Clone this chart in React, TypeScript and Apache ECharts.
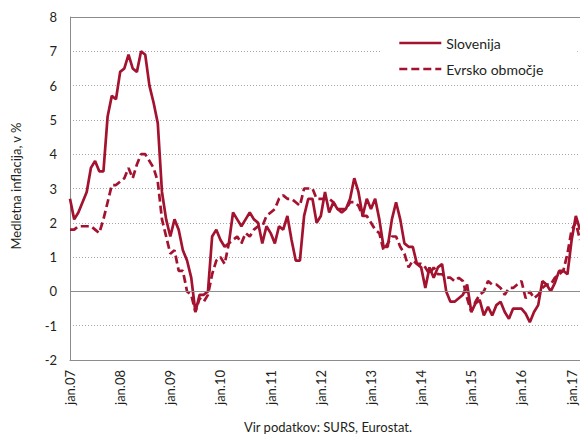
import { useEffect, useRef } from 'react';
import * as echarts from 'echarts';

const monthNames = ['jan', 'feb', 'mar', 'apr', 'maj', 'jun', 'jul', 'avg', 'sep', 'okt', 'nov', 'dec'];
const yearLabels = ['07', '08', '09', '10', '11', '12', '13', '14', '15', '16', '17'];
const lastYearMonths = 3; // jan.17 – mar.17

const categories: string[] = [];
yearLabels.forEach((yy, yi) => {
  const n = yi === yearLabels.length - 1 ? lastYearMonths : 12;
  for (let m = 0; m < n; m++) categories.push(monthNames[m] + '.' + yy);
});

// Slovenija – yearly rate of HICP inflation, %
const slovenija = [
  // 2007
  2.7, 2.1, 2.3, 2.6, 2.9, 3.6, 3.8, 3.5, 3.5, 5.1, 5.7, 5.6,
  // 2008
  6.4, 6.5, 6.9, 6.5, 6.4, 7.0, 6.9, 6.0, 5.5, 4.9, 2.9, 2.1,
  // 2009
  1.6, 2.1, 1.8, 1.2, 0.9, 0.4, -0.6, -0.1, -0.1, 0.0, 1.6, 1.8,
  // 2010
  1.5, 1.3, 1.4, 2.3, 2.1, 1.9, 2.1, 2.3, 2.1, 2.0, 1.4, 1.9,
  // 2011
  1.7, 1.4, 1.9, 1.8, 2.2, 1.5, 0.9, 0.9, 2.2, 2.7, 2.7, 2.0,
  // 2012
  2.2, 2.9, 2.3, 2.6, 2.4, 2.3, 2.4, 2.7, 3.3, 2.9, 2.2, 2.7,
  // 2013
  2.4, 2.7, 2.1, 1.3, 1.3, 2.1, 2.6, 2.1, 1.4, 1.3, 1.3, 0.8,
  // 2014
  0.7, 0.1, 0.7, 0.4, 0.7, 0.8, 0.0, -0.3, -0.3, -0.2, -0.1, 0.2,
  // 2015
  -0.6, -0.35, -0.25, -0.7, -0.45, -0.7, -0.4, -0.3, -0.6, -0.8, -0.5, -0.5,
  // 2016
  -0.5, -0.65, -0.9, -0.6, -0.4, 0.3, 0.2, 0.0, 0.25, 0.6, 0.6, 0.5,
  // 2017
  1.5, 2.2, 1.8,
];

// Evrsko območje
const evrskoObmocje = [
  // 2007
  1.8, 1.8, 1.9, 1.9, 1.9, 1.9, 1.8, 1.7, 2.1, 2.6, 3.1, 3.1,
  // 2008
  3.2, 3.3, 3.6, 3.3, 3.7, 4.0, 4.0, 3.8, 3.6, 3.2, 2.1, 1.6,
  // 2009
  1.1, 1.2, 0.6, 0.6, 0.0, -0.1, -0.6, -0.2, -0.3, -0.1, 0.5, 0.9,
  // 2010
  1.0, 0.8, 1.4, 1.5, 1.6, 1.4, 1.7, 1.6, 1.8, 1.9, 1.9, 2.2,
  // 2011
  2.3, 2.4, 2.7, 2.8, 2.7, 2.7, 2.6, 2.5, 3.0, 3.0, 3.0, 2.7,
  // 2012
  2.7, 2.7, 2.7, 2.6, 2.4, 2.4, 2.4, 2.6, 2.6, 2.5, 2.2, 2.2,
  // 2013
  2.0, 1.8, 1.7, 1.2, 1.4, 1.6, 1.6, 1.3, 1.1, 0.7, 0.9, 0.8,
  // 2014
  0.8, 0.7, 0.5, 0.7, 0.5, 0.5, 0.4, 0.4, 0.3, 0.4, 0.3, -0.2,
  // 2015
  -0.6, -0.3, -0.1, 0.0, 0.3, 0.2, 0.2, 0.1, -0.1, 0.1, 0.1, 0.2,
  // 2016
  0.3, -0.2, 0.0, -0.2, -0.1, 0.1, 0.2, 0.2, 0.4, 0.5, 0.6, 1.1,
  // 2017
  1.8, 2.0, 1.5,
];

const seriesNames = ['Slovenija', 'Evrsko območje'];
const yMin = -2;
const yMax = 8;
const yStep = 1;
const solidRefLines = [0, 8];

const yAxisTitle = 'Medletna inflacija, v %';
const sourceNote = 'Vir podatkov: SURS, Eurostat.';

const RED = '#a3122f';
const TEXT = '#231f20';
const FONT = 'Lato, "Liberation Sans", sans-serif';

export default function App() {
  const ref = useRef<HTMLDivElement>(null);

  useEffect(() => {
    if (!ref.current) return;
    const chart = echarts.init(ref.current, undefined, { renderer: 'svg' });
    chart.setOption({
      animation: false,
      backgroundColor: '#ffffff',
      textStyle: { fontFamily: FONT },
      grid: { left: 70, top: 17, right: 0, bottom: 74, containLabel: false },
      legend: {
        data: seriesNames,
        orient: 'vertical',
        left: 380,
        top: 26,
        padding: [10, 34, 9, 18],
        backgroundColor: '#ffffff',
        itemWidth: 42,
        itemHeight: 14,
        itemGap: 12,
        selectedMode: false,
        itemStyle: { opacity: 0 },
        lineStyle: { width: 2.6 },
        textStyle: { fontSize: 14, color: TEXT, fontFamily: FONT },
      },
      xAxis: {
        type: 'category',
        data: categories,
        boundaryGap: false,
        axisLine: { show: true, onZero: false, lineStyle: { color: '#8c8c8c', width: 1 } },
        axisTick: { show: false },
        axisLabel: {
          interval: (i: number) => i % 12 === 0,
          rotate: 90,
          fontSize: 13,
          color: TEXT,
          margin: 10,
          fontFamily: FONT,
        },
        splitLine: { show: false },
      },
      yAxis: {
        type: 'value',
        min: yMin,
        max: yMax,
        interval: yStep,
        axisLine: { show: true, lineStyle: { color: '#8c8c8c', width: 1 } },
        axisTick: { show: false },
        axisLabel: { fontSize: 13, color: TEXT, margin: 13, fontFamily: FONT },
        splitLine: { show: true, lineStyle: { color: '#a6a6a6', type: [1, 2], width: 1 } },
      },
      series: [
        {
          name: 'ref',
          type: 'line',
          data: [],
          z: 1,
          silent: true,
          markLine: {
            silent: true,
            symbol: 'none',
            label: { show: false },
            lineStyle: { color: '#8c8c8c', type: 'solid', width: 1 },
            data: solidRefLines.map((v) => ({ yAxis: v })),
          },
        },
        {
          name: seriesNames[0],
          type: 'line',
          data: slovenija,
          symbol: 'none',
          z: 3,
          color: RED,
          lineStyle: { color: RED, width: 2.7, type: 'solid' },
        },
        {
          name: seriesNames[1],
          type: 'line',
          data: evrskoObmocje,
          symbol: 'none',
          z: 2,
          color: RED,
          lineStyle: { color: RED, width: 2.7, type: [8, 4] },
        },
      ],
      graphic: [
        {
          type: 'text',
          x: 16,
          y: 186,
          rotation: Math.PI / 2,
          style: {
            text: yAxisTitle,
            fill: TEXT,
            fontSize: 13,
            fontFamily: FONT,
            textAlign: 'center',
            textVerticalAlign: 'middle',
          },
        },
        {
          type: 'text',
          x: 328,
          y: 427,
          style: {
            text: sourceNote,
            fill: TEXT,
            fontSize: 13,
            fontFamily: FONT,
            textAlign: 'center',
            textVerticalAlign: 'middle',
          },
        },
      ],
    });
    return () => chart.dispose();
  }, []);

  return (
    <div
      ref={ref}
      style={{ position: 'absolute', left: 0, top: 0, width: 580, height: 434 }}
    />
  );
}
